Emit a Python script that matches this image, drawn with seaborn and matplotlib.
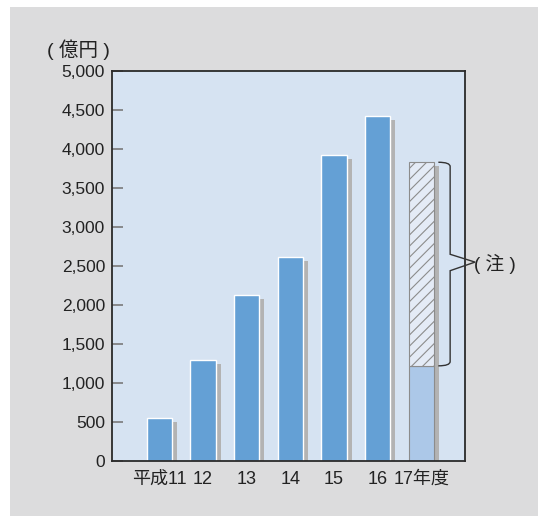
import matplotlib
matplotlib.use("Agg")
import matplotlib.pyplot as plt
from matplotlib.patches import Rectangle, PathPatch
from matplotlib.path import Path
from matplotlib.transforms import ScaledTranslation
import seaborn as sns
import pandas as pd

# 年度別の金額（億円）
years = ["平成11", "12", "13", "14", "15", "16", "17年度"]
amounts = [550, 1300, 2130, 2620, 3920, 4420, 1220]
note_total = 3830  # 平成17年度の合計（斜線部分を含む）
y_ticks = [0, 500, 1000, 1500, 2000, 2500, 3000, 3500, 4000, 4500, 5000]

sns.set_theme(style="white")
plt.rcParams["font.family"] = ["Liberation Sans", "Noto Sans CJK JP", "DejaVu Sans"]
plt.rcParams["hatch.color"] = "#7a7a7a"
plt.rcParams["hatch.linewidth"] = 0.8

FS = 12.5
fig = plt.figure(figsize=(5.38, 5.16), dpi=100, facecolor="white")
W, H = 538, 516
fig.patches.append(Rectangle((10 / W, 0), 1 - 10 / W, 1 - 7 / H,
                             transform=fig.transFigure, facecolor="#dcdcdd",
                             edgecolor="none", zorder=-10))
ax = fig.add_axes([112 / W, 1 - 461 / H, (465 - 112) / W, (461 - 71) / H])
ax.set_zorder(1)
ax.set_facecolor("#d6e3f2")

df = pd.DataFrame({"year": years, "amount": amounts})
bar_w = 0.58

# 影
shadow_vals = amounts[:-1] + [note_total]
shadow_tr = ax.transData + ScaledTranslation(5 / 100, -4 / 100, fig.dpi_scale_trans)
ax.bar(range(len(years)), shadow_vals, width=bar_w, color="#b3b3b3",
       edgecolor="none", transform=shadow_tr, zorder=1)

colors = ["#64a0d5"] * 6 + ["#acc8e8"]
sns.barplot(data=df, x="year", y="amount", hue="year", palette=colors,
            legend=False, width=bar_w, saturation=1, ax=ax, zorder=2,
            edgecolor="white", linewidth=1.0)
# 17年度の棒の枠線
ax.patches[-1].set_edgecolor("#8c8c8c")
ax.patches[-1].set_linewidth(0.8)

# 斜線部分
ax.bar([6], [note_total - amounts[-1]], bottom=[amounts[-1]], width=bar_w,
       color="#e4ebf6", edgecolor="#8c8c8c", linewidth=0.8, hatch="///", zorder=3)

ax.set_xlim(-1.08, 7.0)
ax.set_ylim(0, 5000)
ax.set_yticks(y_ticks)
ax.set_yticklabels([f"{v:,}" for v in y_ticks])
ax.set_xlabel("")
ax.set_ylabel("")
ax.tick_params(axis="y", direction="in", length=8, width=1.2, color="#7a7a7a",
               pad=5, labelsize=FS, labelcolor="#222222", left=True)
ax.tick_params(axis="x", length=0, pad=7, labelsize=13, labelcolor="#222222")
for s in ax.spines.values():
    s.set_visible(True)
    s.set_color("#2a2a2a")
    s.set_linewidth(1.3)

ax.text(-0.096, 1.054, "( 億円 )", transform=ax.transAxes, ha="center",
        va="center", fontsize=14, color="#222222")

# 注のかっこ
x0, xv, xt = 6 + 0.39, 6 + 0.66, 6 + 1.23
top, bot = note_total, amounts[-1]
r = 55
mid_hi, mid_lo, tip = 2650, 2440, 2550
verts = [(x0, top), (xv, top), (xv, top - r), (xv, mid_hi), (xt, tip),
         (xv, mid_lo), (xv, bot + r), (xv, bot), (x0, bot)]
codes = [Path.MOVETO, Path.CURVE3, Path.CURVE3, Path.LINETO, Path.LINETO,
         Path.LINETO, Path.LINETO, Path.CURVE3, Path.CURVE3]
ax.add_patch(PathPatch(Path(verts, codes), facecolor="none", edgecolor="#333333",
                       linewidth=1.0, clip_on=False, zorder=4))
ax.text(xt - 0.02, tip - 30, "( 注 )", ha="left", va="center", fontsize=13.5,
        color="#222222", clip_on=False)

fig.savefig("out.png", dpi=100, facecolor="white")
